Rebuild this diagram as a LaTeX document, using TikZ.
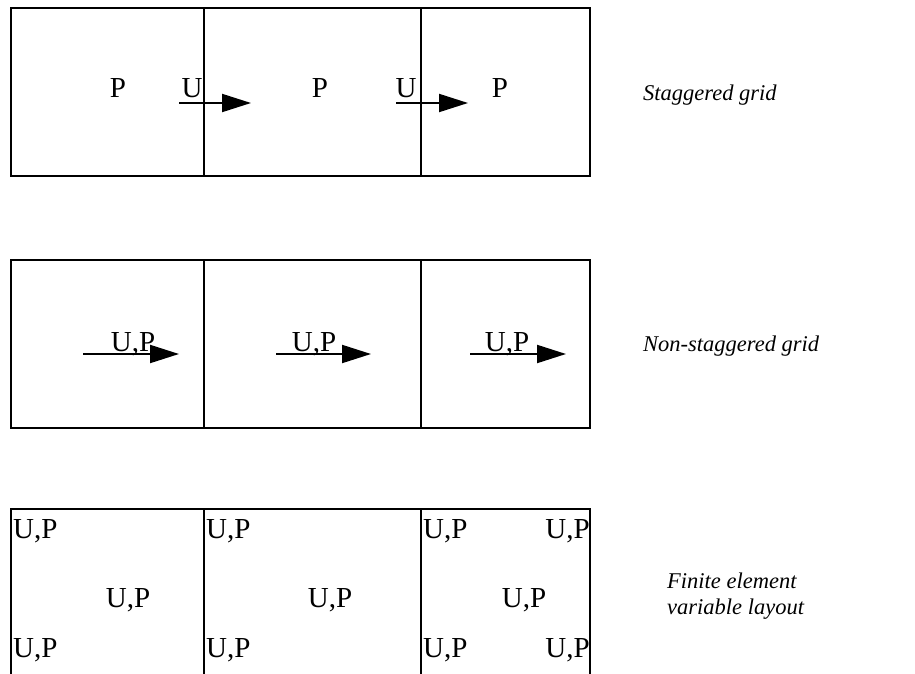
\documentclass[tikz,border=0pt]{standalone}
\usepackage{fontspec}
\setmainfont{Liberation Serif}
\usetikzlibrary{arrows.meta}

\begin{document}
\begin{tikzpicture}[x=1pt,y=-1pt,
  cell/.style={line width=2pt},
  flow/.style={-{Triangle[length=29pt,width=18pt]}, line width=2pt},
  var/.style={font=\fontsize{29}{31}\selectfont, inner sep=0pt, anchor=base},
  caption/.style={font=\fontsize{22.5}{26}\selectfont\itshape, align=left, anchor=west, inner sep=0pt}]

\useasboundingbox (0,0) rectangle (915,674);

% Staggered grid: P in the cells, U on the faces
\draw[cell] (11,8) rectangle (590,176);
\draw[cell] (204,8) -- (204,176) (421,8) -- (421,176);
\node[var] (p1) at (118,98) {P};
\node[var] (u1) at (192,98) {U};
\node[var] (p2) at (320,98) {P};
\node[var] (u2) at (406,98) {U};
\node[var] (p3) at (500,98) {P};
\coordinate (u1a) at (179,103);
\coordinate (u1b) at (251,103);
\coordinate (u2a) at (396,103);
\coordinate (u2b) at (468,103);
\draw[flow] (u1a) -- (u1b);
\draw[flow] (u2a) -- (u2b);
\node[caption] (stag) at (643,95) {Staggered grid};

% Non-staggered grid: U and P share the cell centre
\draw[cell] (11,260) rectangle (590,428);
\draw[cell] (204,260) -- (204,428) (421,260) -- (421,428);
\node[var] (up1) at (133,351) {U,P};
\node[var] (up2) at (314,351) {U,P};
\node[var] (up3) at (507,351) {U,P};
\coordinate (a1) at (83,354);
\coordinate (b1) at (179,354);
\coordinate (a2) at (276,354);
\coordinate (b2) at (371,354);
\coordinate (a3) at (470,354);
\coordinate (b3) at (566,354);
\draw[flow] (a1) -- (b1);
\draw[flow] (a2) -- (b2);
\draw[flow] (a3) -- (b3);
\node[caption] (nonstag) at (643,346) {Non-staggered grid};

% Finite elements: nodes on the corners and in the middle
\draw[cell] (11,674) -- (11,509) -- (590,509) -- (590,674);
\draw[cell] (204,509) -- (204,674) (421,509) -- (421,674);
\node[var, anchor=base west] (fa1) at (13,538) {U,P};
\node[var, anchor=base west] (fa2) at (206,538) {U,P};
\node[var, anchor=base west] (fa3) at (423,538) {U,P};
\node[var, anchor=base east] (fa4) at (590,538) {U,P};
\node[var] (fm1) at (128,607) {U,P};
\node[var] (fm2) at (330,607) {U,P};
\node[var] (fm3) at (524,607) {U,P};
\node[var, anchor=base west] (fb1) at (13,657) {U,P};
\node[var, anchor=base west] (fb2) at (206,657) {U,P};
\node[var, anchor=base west] (fb3) at (423,657) {U,P};
\node[var, anchor=base east] (fb4) at (590,657) {U,P};
\node[caption] (fe) at (667,596) {Finite element\\variable layout};

\end{tikzpicture}
\end{document}
